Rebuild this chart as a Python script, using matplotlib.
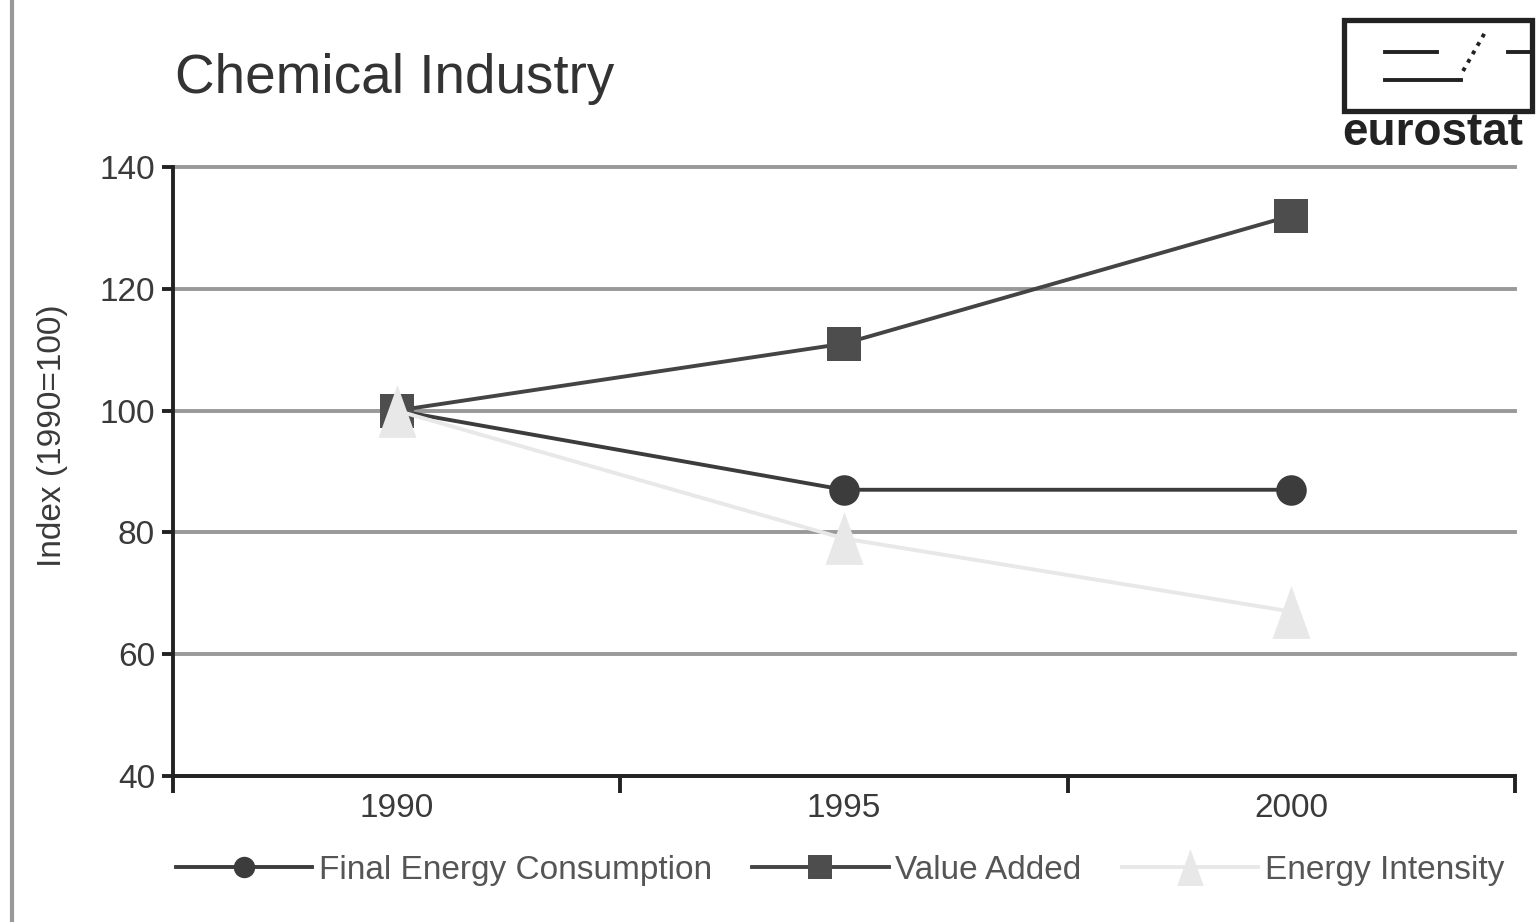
import matplotlib.pyplot as plt
from matplotlib.lines import Line2D
from matplotlib.patches import Rectangle
from matplotlib.path import Path

plt.rcParams['font.family'] = ['Liberation Sans', 'DejaVu Sans']

# Index values (1990 = 100)
years = ["1990", "1995", "2000"]
final_energy = [100, 87, 87]
value_added = [100, 111, 132]
energy_intensity = [100, 79, 67]

series_labels = ["Final Energy Consumption", "Value Added", "Energy Intensity"]
y_ticks = [40, 60, 80, 100, 120, 140]

W, H = 1536, 922
fig = plt.figure(figsize=(W / 100, H / 100), dpi=100)
fig.patch.set_facecolor('white')

# axes box in pixel terms
ax = fig.add_axes([173 / W, 1 - 776 / H, (1515 - 173) / W, (776 - 167) / H])

x = list(range(len(years)))
tri = Path([(0, 1), (-0.72, -1), (0.72, -1), (0, 1)])

ax.plot(x, final_energy, color='#3c3c3c', lw=2.8, marker='o', ms=22,
        markeredgewidth=0, label=series_labels[0], zorder=3)
ax.plot(x, value_added, color='#444444', lw=2.8, marker='s', ms=24,
        markerfacecolor='#4d4d4d', markeredgewidth=0, label=series_labels[1], zorder=3)
ax.plot(x, energy_intensity, color='#e8e8e8', lw=2.8, marker=tri, ms=38,
        markeredgewidth=0, label=series_labels[2], zorder=4)

ax.set_xlim(-0.5, len(years) - 0.5)
ax.set_ylim(40, 140)
ax.set_yticks(y_ticks)
ax.set_xticks(x)
ax.set_xticklabels(years)
ax.set_xticks([i - 0.5 for i in range(len(years) + 1)], minor=True)

ax.tick_params(axis='x', which='major', length=0, pad=12, labelsize=24, labelcolor='#3a3a3a')
ax.tick_params(axis='x', which='minor', length=12, width=2.8, color='#222222', direction='out')
ax.tick_params(axis='y', length=8, width=2.8, color='#222222', pad=5,
               labelsize=24, labelcolor='#3a3a3a')

for s in ['top', 'right']:
    ax.spines[s].set_visible(False)
for s in ['left', 'bottom']:
    ax.spines[s].set_color('#222222')
    ax.spines[s].set_linewidth(2.8)

ax.yaxis.grid(True, color='#999999', lw=2.8)
ax.set_axisbelow(True)
for gl in ax.get_ygridlines():
    gl.set_clip_on(False)

fig.text(52 / W, 1 - 436 / H, "Index (1990=100)", rotation=90, fontsize=24,
         color='#3a3a3a', ha='center', va='center')
fig.text(175 / W, 1 - 79 / H, "Chemical Industry", fontsize=39.5,
         color='#333333', ha='left', va='center')

leg = fig.legend(loc='center', bbox_to_anchor=(840 / W, 1 - 870 / H), ncol=3,
                 frameon=False, fontsize=24, handlelength=4.1, handletextpad=0.2,
                 columnspacing=1.2, markerscale=0.7, labelcolor='#555555')

# left page border
fig.add_artist(Line2D([12 / W, 12 / W], [0, 1], color='#999999', lw=3))

# eurostat logo
def fx(px):
    return px / W


def fy(py):
    return 1 - py / H


fig.add_artist(Rectangle((fx(1344), fy(111)), fx(1532) - fx(1344), fy(20) - fy(111),
                         fill=False, edgecolor='#222222', lw=3.8, transform=fig.transFigure))
fig.add_artist(Line2D([fx(1385), fx(1437)], [fy(52), fy(52)], color='#222222', lw=2.8))
fig.add_artist(Line2D([fx(1508), fx(1532)], [fy(52), fy(52)], color='#222222', lw=2.8))
fig.add_artist(Line2D([fx(1385), fx(1461)], [fy(80), fy(80)], color='#222222', lw=2.8))
fig.add_artist(Line2D([fx(1463), fx(1487)], [fy(71), fy(29)], color='#222222', lw=2.8,
                      ls=(0, (1, 1.5))))
fig.text(fx(1342), fy(133), "eurostat", fontsize=33, fontweight='bold', color='#222222',
         ha='left', va='center')

fig.savefig("out.png", dpi=100)
